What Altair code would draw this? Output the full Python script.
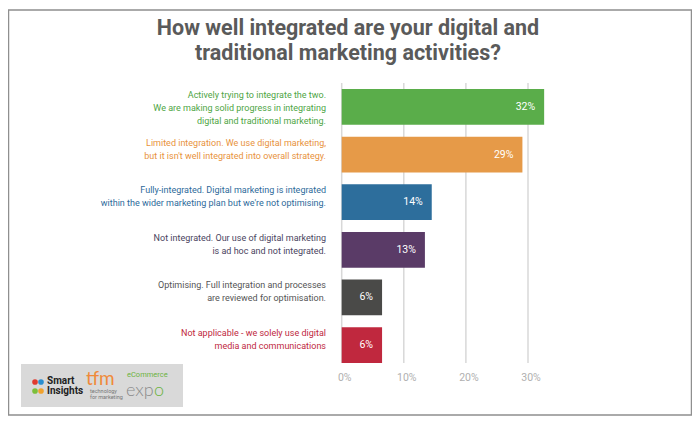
import altair as alt
import pandas as pd

# ---- data ----
categories = [
    "Actively trying to integrate the two. \nWe are making solid progress in integrating \ndigital and traditional marketing.",
    "Limited integration. We use digital marketing,\nbut it isn't well integrated into overall strategy.",
    "Fully-integrated. Digital marketing is integrated\nwithin the wider marketing plan but we're not optimising.",
    "Not integrated. Our use of digital marketing\nis ad hoc and not integrated.",
    "Optimising. Full integration and processes \nare reviewed for optimisation.",
    "Not applicable - we solely use digital \nmedia and communications",
]
values = [32.6, 29.1, 14.5, 13.4, 6.5, 6.5]
value_labels = ["32%", "29%", "14%", "13%", "6%", "6%"]
ticks = [0, 10, 20, 30]
tick_labels = ["0%", "10%", "20%", "30%"]
title_text = "How well integrated are your digital and\ntraditional marketing activities?"

# ---- styles ----
bar_colors = ["#5aad4a", "#e69a48", "#2d6e9c", "#5a3b67", "#4a4a48", "#c0283e"]
label_colors = ["#4ea544", "#e8923c", "#2d6a9a", "#4a4460", "#555555", "#c0283e"]
FONT = "Roboto, Liberation Sans, sans-serif"

df = pd.DataFrame({"cat": categories, "val": values, "lab": value_labels,
                   "tcat": categories})
tdf = pd.DataFrame({"t": ticks, "tl": tick_labels})
one = pd.DataFrame({"a": [0]})

xscale = alt.Scale(domain=[0, 40], range=[333.7, 582.1], nice=False)
yscale = alt.Scale(domain=categories, range=[81, 355], paddingInner=0.25, paddingOuter=0)

frame = alt.Chart(one).mark_rect(fill="white", stroke="#8f8f8f", strokeWidth=1.5).encode(
    x=alt.value(0.5), x2=alt.value(683.5), y=alt.value(2), y2=alt.value(407)
)

title = alt.Chart(one).mark_text(
    text=title_text, lineBreak="\n", font=FONT, fontSize=21.5, fontWeight="bold",
    color="#5a5a5a", align="center", baseline="top", lineHeight=25
).encode(x=alt.value(340), y=alt.value(10))

grid = alt.Chart(tdf).mark_rule(color="#d8d8d8", strokeWidth=1.5).encode(
    x=alt.X("t:Q", scale=xscale, axis=None),
    y=alt.value(75), y2=alt.value(355)
)

tick_text = alt.Chart(tdf).mark_text(
    font=FONT, fontSize=10.5, color="#b0b0b0", align="center", baseline="middle", dx=3
).encode(
    x=alt.X("t:Q", scale=xscale, axis=None),
    y=alt.value(370),
    text="tl:N"
)

bars = alt.Chart(df).mark_bar().encode(
    x=alt.X("val:Q", scale=xscale, axis=None),
    y=alt.Y("cat:N", scale=yscale, axis=None, sort=None),
    color=alt.Color("cat:N", scale=alt.Scale(domain=categories, range=bar_colors), legend=None),
)

vals = alt.Chart(df).mark_text(
    font=FONT, fontSize=10.5, color="white", align="right", baseline="middle", dx=-9
).encode(
    x=alt.X("val:Q", scale=xscale, axis=None),
    y=alt.Y("cat:N", scale=yscale, axis=None, sort=None),
    text="lab:N"
)

labels = alt.Chart(df).mark_text(
    font=FONT, fontSize=9, align="right", baseline="top", lineBreak="\n",
    lineHeight=13, dy=-16
).encode(
    x=alt.value(318),
    y=alt.Y("cat:N", scale=yscale, axis=None, sort=None),
    text="cat:N",
    color=alt.Color("tcat:N", scale=alt.Scale(domain=categories, range=label_colors), legend=None),
)

# logo box (decorative)
logo_box = alt.Chart(one).mark_rect(fill="#d9d9d9").encode(
    x=alt.value(13), x2=alt.value(175), y=alt.value(356), y2=alt.value(399)
)
logo_dots = alt.Chart(pd.DataFrame({"c": ["#e03a2f", "#2a8fd0", "#7cbf3a", "#f0a22e"],
                                    "px": [27, 33, 27, 33], "py": [374, 374, 383, 383]})).mark_circle(size=32, opacity=1).encode(
    x=alt.X("px:Q", scale=None), y=alt.Y("py:Q", scale=None),
    color=alt.Color("c:N", scale=None)
)
logo_t1 = alt.Chart(one).mark_text(text="Smart\nInsights", lineBreak="\n", font=FONT, fontSize=10,
                                    fontWeight="bold", color="#222222", align="left", baseline="top",
                                    lineHeight=10).encode(x=alt.value(39), y=alt.value(368))
logo_t2 = alt.Chart(one).mark_text(text="tfm", font="Lato, sans-serif", fontSize=19,
                                    color="#f08a3a", align="left", baseline="top").encode(
    x=alt.value(78), y=alt.value(362))
logo_t3 = alt.Chart(one).mark_text(text="technology\nfor marketing", lineBreak="\n", font=FONT, fontSize=5.5,
                                    color="#777777", align="left", baseline="top", lineHeight=5.5).encode(
    x=alt.value(82), y=alt.value(381))
logo_t4 = alt.Chart(one).mark_text(text="eCommerce", font=FONT, fontSize=7.5,
                                    color="#6cb33f", align="left", baseline="top").encode(
    x=alt.value(119), y=alt.value(363))
logo_t5 = alt.Chart(one).mark_text(text="exp", font="Lato, sans-serif", fontSize=18, fontWeight=300,
                                    color="#8a8a8a", align="left", baseline="top").encode(
    x=alt.value(118), y=alt.value(374))
logo_t6 = alt.Chart(one).mark_text(text="o", font="Lato, sans-serif", fontSize=18, fontWeight=300,
                                    color="#6cb33f", align="left", baseline="top").encode(
    x=alt.value(146), y=alt.value(374))

chart = alt.layer(
    frame, title, grid, bars, vals, labels, tick_text,
    logo_box, logo_dots, logo_t1, logo_t2, logo_t3, logo_t4, logo_t5, logo_t6
).resolve_scale(color="independent").properties(
    width=684, height=408, padding=0,
    autosize=alt.AutoSizeParams(type="none")
).configure_view(strokeWidth=0)

chart.save("out.html", embed_options={"renderer": "svg", "actions": False})
